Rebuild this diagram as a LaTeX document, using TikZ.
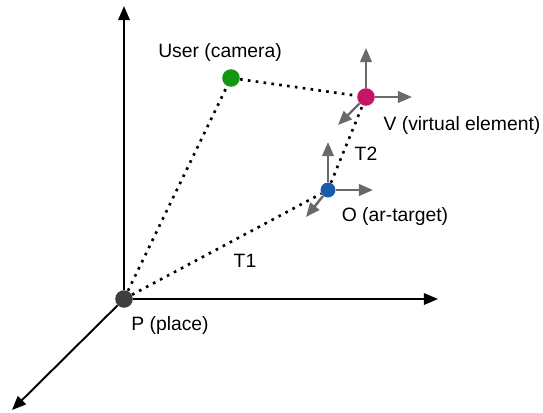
\documentclass[tikz,border=0pt]{standalone}
\usepackage{fontspec}
\setmainfont{Liberation Sans}
\usetikzlibrary{arrows.meta}

\definecolor{placegray}{RGB}{62,62,62}
\definecolor{usergreen}{RGB}{20,150,20}
\definecolor{virtmag}{RGB}{200,20,100}
\definecolor{targblue}{RGB}{25,90,170}
\definecolor{axisgray}{RGB}{105,105,105}

\begin{document}
\begin{tikzpicture}
  [x=0.02cm,y=-0.02cm,
   every node/.style={font=\fontsize{11}{13}\selectfont},
   dot/.style={circle,inner sep=0pt,minimum size=#1},
   label/.style={inner sep=0pt},
   axis/.style={line width=1.1pt,-{Triangle[length=8pt,width=6.5pt]}},
   frame/.style={line width=1.4pt,draw=axisgray,-{Triangle[length=8pt,width=6.5pt]}},
   link/.style={line width=1.5pt,dash pattern=on 1.5pt off 3pt}]

  \useasboundingbox (0,0) rectangle (543,412);

  \node[dot=10pt,fill=placegray] (P) at (124,299) {};
  \node[dot=10pt,fill=usergreen] (U) at (231,78)  {};
  \node[dot=10pt,fill=virtmag]   (V) at (366,97)  {};
  \node[dot=8.5pt,fill=targblue] (O) at (328,190) {};

  \coordinate (Py) at (124,6);
  \coordinate (Px) at (438,299);
  \coordinate (Pz) at (12,410);
  \coordinate (Vy) at (366,48);
  \coordinate (Vx) at (412,97);
  \coordinate (Vz) at (338,125);
  \coordinate (Oy) at (328,142);
  \coordinate (Ox) at (373,190);
  \coordinate (Oz) at (306,217);

  % place axes
  \draw[axis] (P) -- (Py);
  \draw[axis] (P) -- (Px);
  \draw[axis] (P) -- (Pz);

  % local frames
  \draw[frame] (V) -- (Vy);
  \draw[frame] (V) -- (Vx);
  \draw[frame] (V) -- (Vz);
  \draw[frame] (O) -- (Oy);
  \draw[frame] (O) -- (Ox);
  \draw[frame] (O) -- (Oz);

  \path[link]
        (P) edge (U)
        (U) edge (V)
        (P) edge (O)
        (O) edge (V);

  \node[label] (Ulab) at (220,52)  {User (camera)};
  \node[label] (Vlab) at (462,125) {V (virtual element)};
  \node[label] (Olab) at (395,216) {O (ar-target)};
  \node[label] (Plab) at (170,325) {P (place)};
  \node[label] (T1)   at (245,261) {T1};
  \node[label] (T2)   at (366,154) {T2};
\end{tikzpicture}
\end{document}
